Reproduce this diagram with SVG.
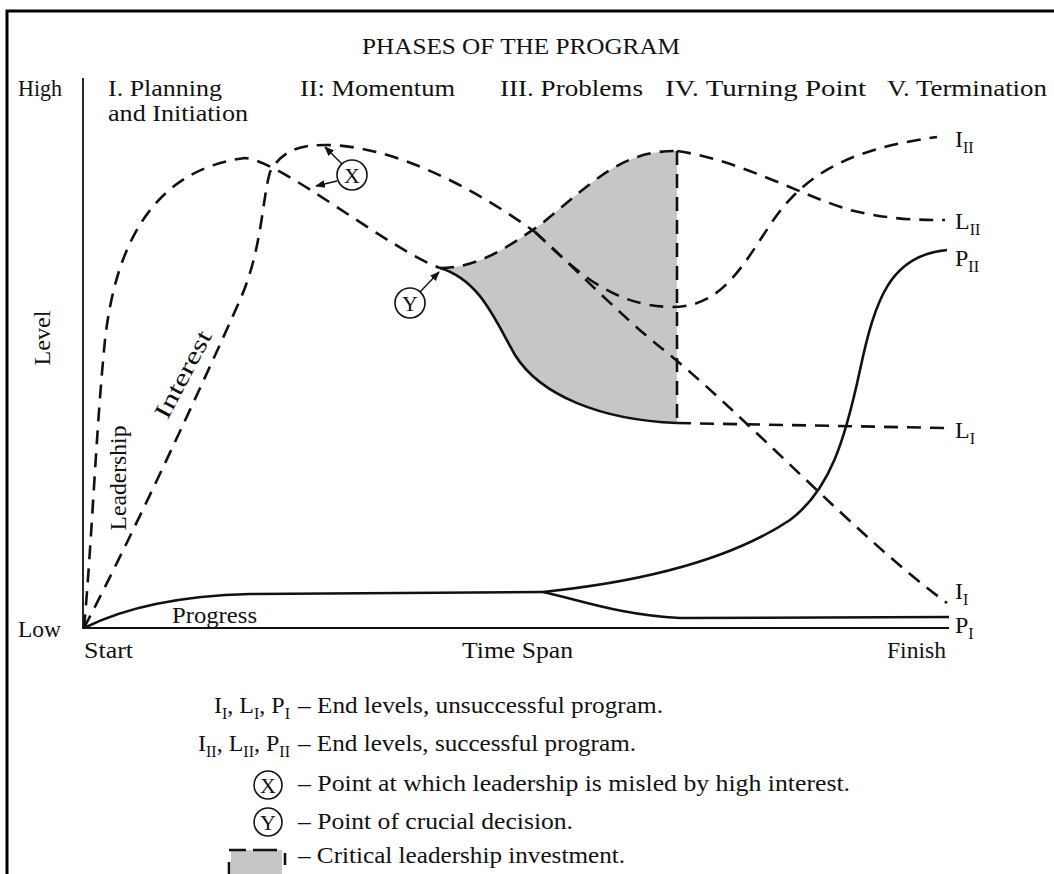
<svg xmlns="http://www.w3.org/2000/svg" width="1054" height="874" viewBox="0 0 1054 874">
  <style>
    text { font-family: "Liberation Serif", "DejaVu Serif", serif; font-size: 24px; fill: #111; }
    .sub { font-size: 16px; }
    .dash { fill: none; stroke: #111; stroke-width: 2.6; stroke-dasharray: 14 9; }
    .solid { fill: none; stroke: #111; stroke-width: 2.6; }
    .axis { fill: none; stroke: #111; stroke-width: 1.8; }
    .frame { fill: none; stroke: #000; stroke-width: 3; }
    .ring { fill: #fff; stroke: #111; stroke-width: 1.6; }
    .ptr { fill: none; stroke: #111; stroke-width: 1.4; }
    .shade { fill: #c6c6c6; }
    .letter { font-size: 22px; }
  </style>
  <defs>
    <marker id="tip" viewBox="0 0 10 10" refX="9" refY="5" markerWidth="7" markerHeight="7" orient="auto">
      <path d="M0,1 L10,5 L0,9 Z" fill="#111"/>
    </marker>
  </defs>

  <rect width="1054" height="874" fill="#fff"/>
  <!-- outer frame (top and left edges) -->
  <path class="frame" d="M7,874 L7,11 L1054,11"/>

  <!-- headings -->
  <g id="title">
    <text x="521" y="54" text-anchor="middle" textLength="318" lengthAdjust="spacingAndGlyphs">PHASES OF THE PROGRAM</text>
  </g>
  <g id="phases">
    <text x="108" y="96" textLength="114" lengthAdjust="spacingAndGlyphs">I. Planning</text>
    <text x="108" y="121" textLength="140" lengthAdjust="spacingAndGlyphs">and Initiation</text>
    <text x="300" y="96" textLength="155" lengthAdjust="spacingAndGlyphs">II: Momentum</text>
    <text x="500" y="96" textLength="143" lengthAdjust="spacingAndGlyphs">III. Problems</text>
    <text x="665" y="96" textLength="201" lengthAdjust="spacingAndGlyphs">IV. Turning Point</text>
    <text x="887" y="96" textLength="160" lengthAdjust="spacingAndGlyphs">V. Termination</text>
  </g>

  <!-- axes -->
  <g id="axes">
    <path class="axis" d="M83,78 L83,628 L949,628"/>
    <text x="18" y="96" textLength="44" lengthAdjust="spacingAndGlyphs">High</text>
    <text x="18" y="637" textLength="43" lengthAdjust="spacingAndGlyphs">Low</text>
    <text x="84" y="658" textLength="49" lengthAdjust="spacingAndGlyphs">Start</text>
    <text x="462" y="658" textLength="111" lengthAdjust="spacingAndGlyphs">Time Span</text>
    <text x="887" y="658" textLength="59" lengthAdjust="spacingAndGlyphs">Finish</text>
    <text transform="translate(50,338) rotate(-90)" text-anchor="middle" textLength="55" lengthAdjust="spacingAndGlyphs">Level</text>
  </g>

  <!-- shaded investment region -->
  <g id="investment">
    <path class="shade" d="M440,268 C480,268 510,245 540,225 C590,185 620,150 677,151 L677,423 C600,420 540,395 515,355 C495,320 480,280 440,268 Z"/>
  </g>

  <!-- curves -->
  <g id="connectors">
    <!-- Leadership -->
    <path class="dash" d="M84,628 C92,540 96,430 105,340 C115,250 150,170 245,158 C280,160 390,250 440,268"/>
    <path class="dash" d="M440,268 C480,268 510,245 540,225 C590,185 620,150 677,151"/>
    <path class="dash" d="M677,151 C740,160 800,195 850,210 C890,220 920,220 945,220"/>
    <path class="solid" d="M440,268 C480,280 495,320 515,355 C540,395 600,420 677,423"/>
    <path class="dash" d="M677,151 L677,423"/>
    <path class="dash" d="M677,423 L947,428"/>
    <!-- Interest -->
    <path class="dash" d="M84,628 C130,540 200,390 240,300 C262,250 262,200 270,172 C282,150 300,145 325,145 C390,145 470,185 535,232"/>
    <path class="dash" d="M535,232 C575,268 620,315 660,347 C740,410 860,540 947,603"/>
    <path class="dash" d="M535,232 C575,270 610,305 670,307 C720,308 740,270 770,225 C800,180 840,150 937,137"/>
    <!-- Progress -->
    <path class="solid" d="M84,628 C120,610 170,596 250,594 L543,592"/>
    <path class="solid" d="M543,592 C640,582 730,560 790,520 C830,490 845,440 860,370 C875,300 890,255 947,250"/>
    <path class="solid" d="M543,592 C580,600 620,615 680,618 L949,617"/>
    <!-- pointers -->
    <path class="ptr" d="M342,164 L325,147" marker-end="url(#tip)"/>
    <path class="ptr" d="M337,181 L316,186" marker-end="url(#tip)"/>
    <path class="ptr" d="M420,292 L439,272" marker-end="url(#tip)"/>
  </g>

  <!-- curve labels -->
  <g id="curve-labels">
    <text transform="translate(190,378) rotate(-62)" text-anchor="middle" textLength="96" lengthAdjust="spacingAndGlyphs">Interest</text>
    <text transform="translate(126,478) rotate(-90)" text-anchor="middle" textLength="105" lengthAdjust="spacingAndGlyphs">Leadership</text>
    <text x="172" y="623" textLength="85" lengthAdjust="spacingAndGlyphs">Progress</text>
  </g>

  <!-- markers X and Y -->
  <g id="point-x">
    <circle class="ring" cx="352" cy="175" r="15"/>
    <text class="letter" x="352" y="183" text-anchor="middle">X</text>
  </g>
  <g id="point-y">
    <circle class="ring" cx="410" cy="303" r="15"/>
    <text class="letter" x="410" y="311" text-anchor="middle">Y</text>
  </g>

  <!-- end level labels -->
  <g id="end-labels">
    <text x="955" y="147">I<tspan class="sub" dy="6">II</tspan></text>
    <text x="955" y="229">L<tspan class="sub" dy="6">II</tspan></text>
    <text x="955" y="266">P<tspan class="sub" dy="6">II</tspan></text>
    <text x="955" y="438">L<tspan class="sub" dy="6">I</tspan></text>
    <text x="955" y="599">I<tspan class="sub" dy="6">I</tspan></text>
    <text x="955" y="633">P<tspan class="sub" dy="6">I</tspan></text>
  </g>

  <!-- legend -->
  <g id="legend">
    <text x="290" y="713" text-anchor="end">I<tspan class="sub" dy="6">I</tspan><tspan dy="-6">, L</tspan><tspan class="sub" dy="6">I</tspan><tspan dy="-6">, P</tspan><tspan class="sub" dy="6">I</tspan></text>
    <text x="298" y="713" textLength="365" lengthAdjust="spacingAndGlyphs">– End levels, unsuccessful program.</text>

    <text x="290" y="751" text-anchor="end">I<tspan class="sub" dy="6">II</tspan><tspan dy="-6">, L</tspan><tspan class="sub" dy="6">II</tspan><tspan dy="-6">, P</tspan><tspan class="sub" dy="6">II</tspan></text>
    <text x="298" y="751" textLength="338" lengthAdjust="spacingAndGlyphs">– End levels, successful program.</text>

    <circle class="ring" cx="268" cy="785" r="14"/>
    <text class="letter" x="268" y="793" text-anchor="middle">X</text>
    <text x="298" y="791" textLength="552" lengthAdjust="spacingAndGlyphs">– Point at which leadership is misled by high interest.</text>

    <circle class="ring" cx="268" cy="822" r="14"/>
    <text class="letter" x="268" y="830" text-anchor="middle">Y</text>
    <text x="298" y="829" textLength="275" lengthAdjust="spacingAndGlyphs">– Point of crucial decision.</text>

    <rect class="shade" x="231" y="850" width="51" height="24"/>
    <path class="solid" d="M229,850 L246,850 M253,850 L277,850 M229,862 L229,874 M285,853 L285,865" stroke-width="2.4"/>
    <text x="298" y="863" textLength="327" lengthAdjust="spacingAndGlyphs">– Critical leadership investment.</text>
  </g>
</svg>
